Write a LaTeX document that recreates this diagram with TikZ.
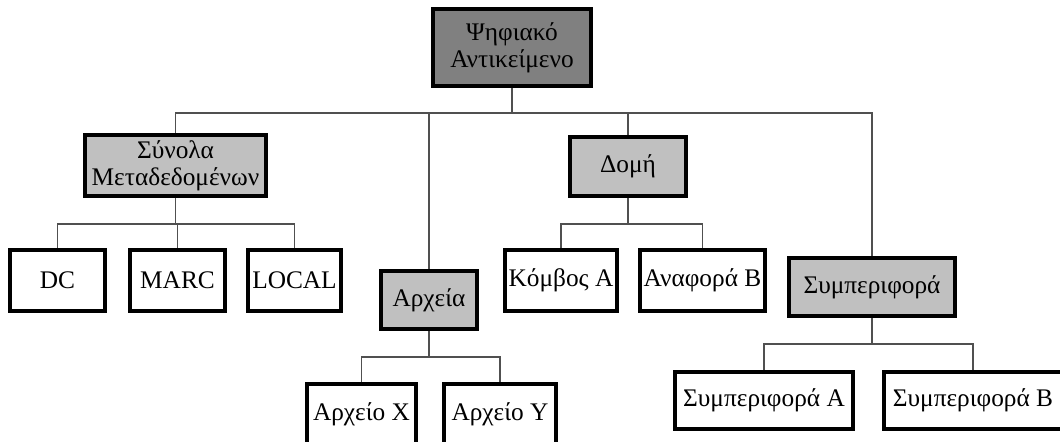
\documentclass[tikz,border=0pt]{standalone}
\usepackage{fontspec}
\setmainfont{Liberation Serif}
\definecolor{rootfill}{HTML}{808080}
\definecolor{midfill}{HTML}{C0C0C0}
\definecolor{linkcol}{HTML}{505050}
\begin{document}
\begin{tikzpicture}[x=0.75pt,y=-0.75pt,
  box/.style={draw=black,line width=3pt,inner sep=0pt,align=center,
    font=\fontsize{19}{20.5}\selectfont},
  leafbox/.style={box,fill=white,minimum height=45.75pt},
  midbox/.style={box,fill=midfill},
  rootbox/.style={box,fill=rootfill},
  link/.style={draw=linkcol,line width=0.8pt}]
\clip (0,0) rectangle (1060,442);
% level 1
\node[rootbox,minimum width=118.5pt,minimum height=57.75pt] (root) at (512,47.5) {Ψηφιακό\\Αντικείμενο};
% level 2
\node[midbox,minimum width=135.75pt,minimum height=45.75pt] (syn) at (175.5,165.5) {Σύνολα\\Μεταδεδομένων};
\node[midbox,minimum width=72pt,minimum height=43.5pt] (arx) at (429,300) {Αρχεία};
\node[midbox,minimum width=87pt,minimum height=44.25pt] (dom) at (628,166.5) {Δομή};
\node[midbox,minimum width=124.5pt,minimum height=43.5pt] (sym) at (872,287) {Συμπεριφορά};
% level 3
\node[leafbox,minimum width=71.25pt] (dc) at (57.5,280) {DC};
\node[leafbox,minimum width=71.25pt] (marc) at (177.5,280) {MARC};
\node[leafbox,minimum width=69.75pt] (local) at (294.5,280) {LOCAL};
\node[leafbox,minimum width=84pt] (kom) at (561,280) {Κόμβος A};
\node[leafbox,minimum width=93.75pt] (ana) at (702.5,280) {Αναφορά B};
\node[leafbox,minimum width=81.75pt,minimum height=45pt] (ax) at (361.5,414) {Αρχείο X};
\node[leafbox,minimum width=84pt,minimum height=45pt] (ay) at (500,414) {Αρχείο Y};
\node[leafbox,minimum width=133.5pt,minimum height=42.75pt] (sa) at (764,400.5) {Συμπεριφορά A};
\node[leafbox,minimum width=133.5pt,minimum height=42.75pt] (sb) at (973,400.5) {Συμπεριφορά B};
% connectors
\coordinate (j0) at (512,113);
\draw[link] (root.south) -- (j0);
\draw[link] (syn.north) |- (j0) -| (sym.north);
\draw[link] (arx.north |- j0) -- (arx.north);
\draw[link] (dom.north |- j0) -- (dom.north);
\coordinate (j1) at (175.5,224);
\draw[link] (syn.south) -- (j1);
\draw[link] (dc.north) |- (j1) -| (local.north);
\draw[link] (marc.north |- j1) -- (marc.north);
\coordinate (j2) at (628,224);
\draw[link] (dom.south) -- (j2);
\draw[link] (kom.north) |- (j2) -| (ana.north);
\coordinate (j3) at (429,357);
\draw[link] (arx.south) -- (j3);
\draw[link] (ax.north) |- (j3) -| (ay.north);
\coordinate (j4) at (872,344);
\draw[link] (sym.south) -- (j4);
\draw[link] (sa.north) |- (j4) -| (sb.north);
\end{tikzpicture}
\end{document}
